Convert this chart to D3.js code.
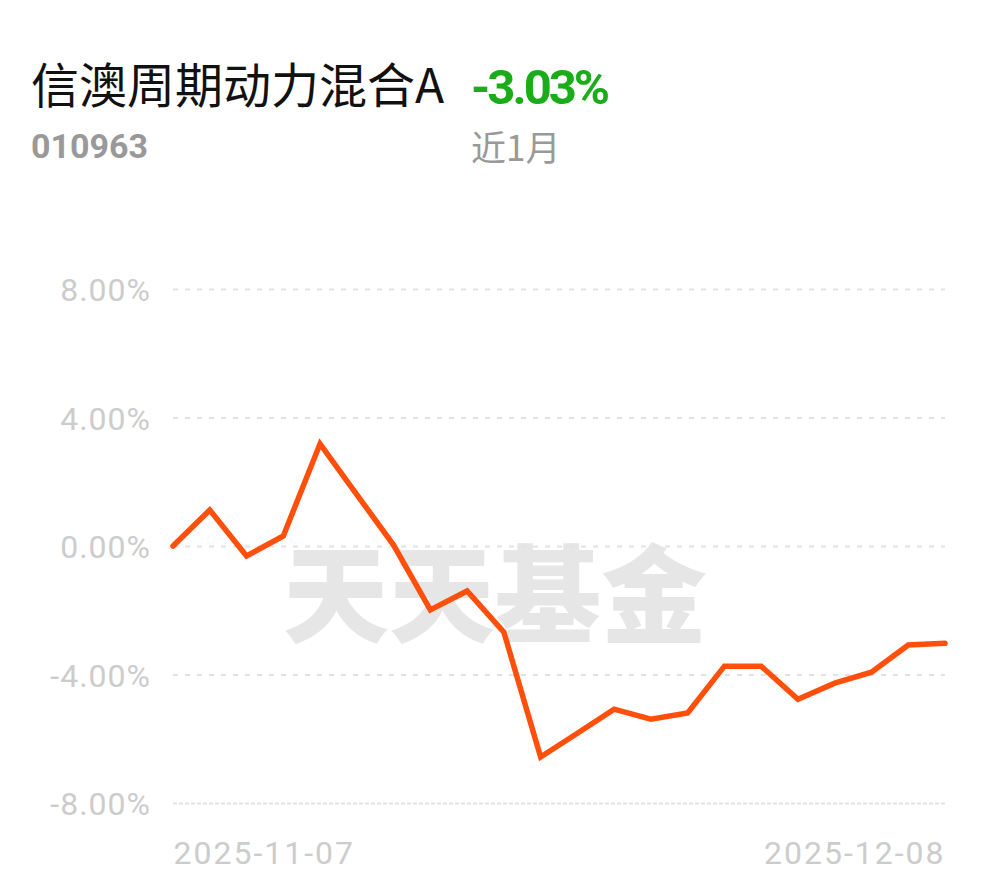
<!DOCTYPE html>
<html>
<head>
<meta charset="utf-8">
<script src="https://cdn.jsdelivr.net/npm/d3@7"></script>
<style>
  html, body { margin: 0; padding: 0; background: #ffffff; }
  svg { display: block; }
</style>
</head>
<body>
<div id="chart"></div>
<script>
const fundName = "信澳周期动力混合A";
const fundCode = "010963";
const periodReturn = "-3.03%";
const periodLabel = "近1月";
const watermark = "天天基金";

const dates = [
  "2025-11-07","2025-11-10","2025-11-11","2025-11-12","2025-11-13","2025-11-14",
  "2025-11-17","2025-11-18","2025-11-19","2025-11-20","2025-11-21",
  "2025-11-24","2025-11-25","2025-11-26","2025-11-27","2025-11-28",
  "2025-12-01","2025-12-02","2025-12-03","2025-12-04","2025-12-05","2025-12-08"
];
const returns = [
  0.00, 1.12, -0.31, 0.31, 3.18, 1.60,
  0.03, -1.99, -1.40, -2.68, -6.57,
  -5.83, -5.08, -5.39, -5.20, -3.74,
  -3.74, -4.77, -4.27, -3.93, -3.08, -3.03
];
const yTicks = [8, 4, 0, -4, -8];
const xTickLabels = ["2025-11-07", "2025-12-08"];

const W = 990, H = 878;
const margin = { left: 173, right: 45, top: 289, bottom: 75 };

const svg = d3.select("#chart").append("svg").attr("width", W).attr("height", H);

const x = d3.scalePoint().domain(dates).range([margin.left, W - margin.right]);
const y = d3.scaleLinear().domain([-8, 8]).range([H - margin.bottom, margin.top]);

// header
svg.append("text").attr("x", 31).attr("y", 103)
  .attr("font-family", "'Noto Sans CJK SC', sans-serif")
  .attr("font-size", 48).attr("fill", "#111").text(fundName);
svg.append("text").attr("x", 471).attr("y", 104)
  .attr("font-family", "Roboto, sans-serif").attr("font-weight", 700)
  .attr("font-size", 49).attr("letter-spacing", -3).attr("fill", "#1aad19").text(periodReturn);
svg.append("text").attr("x", 31).attr("y", 158)
  .attr("font-family", "Roboto, sans-serif").attr("font-weight", 700)
  .attr("font-size", 34).attr("fill", "#999").text(fundCode);
svg.append("text").attr("x", 471).attr("y", 161)
  .attr("font-family", "'Noto Sans CJK SC', sans-serif")
  .attr("font-size", 35).attr("fill", "#999").text(periodLabel);

// watermark
svg.append("text").attr("x", (285 + 705) / 2).attr("y", 634)
  .attr("text-anchor", "middle")
  .attr("font-family", "'Noto Sans CJK SC', sans-serif").attr("font-weight", 900)
  .attr("font-size", 106).attr("fill", "#e6e6e6").text(watermark);

// y axis
const yAxis = d3.axisLeft(y).tickValues(yTicks)
  .tickSize(-(W - margin.right - margin.left)).tickPadding(22)
  .tickFormat(d => d.toFixed(2) + "%");
const gy = svg.append("g").attr("transform", `translate(${margin.left},0)`).call(yAxis);
gy.select(".domain").remove();
gy.selectAll(".tick line")
  .attr("stroke", "#e2e2e2").attr("stroke-width", 2)
  .attr("stroke-dasharray", d => d === -8 ? "4,2" : "5,7");
gy.selectAll(".tick text")
  .attr("fill", "#cccccc").attr("font-size", 32)
  .attr("letter-spacing", 1)
  .attr("font-family", "Roboto, sans-serif").attr("dy", "0.36em");

// x axis labels
const xAxis = d3.axisBottom(x).tickValues(xTickLabels).tickSize(0).tickPadding(38);
const gx = svg.append("g").attr("transform", `translate(0,${H - margin.bottom})`).call(xAxis);
gx.select(".domain").remove();
gx.selectAll(".tick text")
  .attr("fill", "#cccccc").attr("font-size", 32)
  .attr("letter-spacing", 2)
  .attr("font-family", "Roboto, sans-serif")
  .attr("text-anchor", (d, i) => i === 0 ? "start" : "end");

// line
const line = d3.line().x((d, i) => x(dates[i])).y(d => y(d));
svg.append("path").datum(returns)
  .attr("d", line).attr("fill", "none")
  .attr("stroke", "#ff4f0a").attr("stroke-width", 5.5)
  .attr("stroke-linejoin", "miter").attr("stroke-linecap", "round");
</script>
</body>
</html>
